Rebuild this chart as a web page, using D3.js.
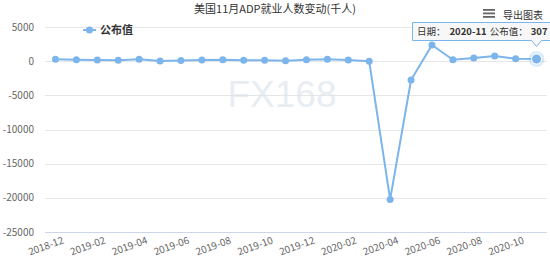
<!DOCTYPE html>
<html>
<head>
<meta charset="utf-8">
<script src="https://cdn.jsdelivr.net/npm/d3@7/dist/d3.min.js"></script>
<style>
  html, body { margin: 0; padding: 0; background: #fff; }
  svg { display: block; font-family: "Noto Sans CJK SC", "DejaVu Sans", sans-serif; }
</style>
</head>
<body>
<div id="chart"></div>
<script>
var months = ["2018-12","2019-01","2019-02","2019-03","2019-04","2019-05","2019-06","2019-07",
  "2019-08","2019-09","2019-10","2019-11","2019-12","2020-01","2020-02","2020-03","2020-04",
  "2020-05","2020-06","2020-07","2020-08","2020-09","2020-10","2020-11"];
var values = [271, 213, 183, 129, 275, 27, 102, 156, 195, 135, 125, 67, 202, 291, 183, -27,
  -20236, -2760, 2369, 212, 481, 753, 365, 307];
var yTicks = [5000, 0, -5000, -10000, -15000, -20000, -25000];
var xTickLabels = ["2018-12","2019-02","2019-04","2019-06","2019-08","2019-10","2019-12",
  "2020-02","2020-04","2020-06","2020-08","2020-10"];
var seriesName = "公布值";
var title = "美国11月ADP就业人数变动(千人)";

var width = 550, height = 267;
var margin = {top: 27, right: 3, bottom: 35, left: 45};
var lineColor = "#7cb5ec";

var svg = d3.select("#chart").append("svg")
  .attr("width", width)
  .attr("height", height);

var x = d3.scaleBand()
  .domain(months)
  .range([margin.left, width - margin.right]);

var y = d3.scaleLinear()
  .domain([-25000, 5000])
  .range([height - margin.bottom, margin.top]);

// grid lines
svg.append("g")
  .selectAll("line")
  .data(yTicks)
  .enter().append("line")
  .attr("x1", margin.left)
  .attr("x2", width - margin.right)
  .attr("y1", function(d) { return Math.round(y(d)) + 0.5; })
  .attr("y2", function(d) { return Math.round(y(d)) + 0.5; })
  .attr("stroke", function(d) { return d === -25000 ? "#ccd6eb" : "#e6e6e6"; })
  .attr("stroke-width", 1);

// y axis labels
svg.append("g")
  .selectAll("text")
  .data(yTicks)
  .enter().append("text")
  .attr("x", 34)
  .attr("y", function(d) { return y(d) + 3.5; })
  .attr("text-anchor", "end")
  .attr("font-size", 10)
  .attr("fill", "#666")
  .text(function(d) { return d; });

// x axis labels
svg.append("g")
  .selectAll("text")
  .data(xTickLabels)
  .enter().append("text")
  .attr("transform", function(d) {
    var cx = x(d) + x.bandwidth() / 2 + 9;
    return "translate(" + cx + "," + 243 + ") rotate(-20)";
  })
  .attr("text-anchor", "end")
  .attr("font-size", 10)
  .attr("fill", "#666")
  .text(function(d) { return d; });

// watermark
svg.append("text")
  .attr("x", 282)
  .attr("y", 107)
  .attr("text-anchor", "middle")
  .attr("font-size", 37)
  .attr("font-family", "Arial, 'Liberation Sans', sans-serif")
  .attr("fill", "#dde6ee")
  .attr("fill-opacity", 0.7)
  .text("FX168");

// title
svg.append("text")
  .attr("x", width / 2)
  .attr("y", 13)
  .attr("text-anchor", "middle")
  .attr("font-size", 11)
  .attr("fill", "#333")
  .text(title);

// export menu
var menu = svg.append("g").attr("transform", "translate(483,9)");
[0, 3.5, 7].forEach(function(dy) {
  menu.append("rect").attr("x", 0).attr("y", dy).attr("width", 12).attr("height", 1.8).attr("fill", "#666");
});
svg.append("text")
  .attr("x", 503)
  .attr("y", 19)
  .attr("font-size", 10)
  .attr("fill", "#333")
  .text("导出图表");

// legend
var legend = svg.append("g").attr("transform", "translate(83,30)");
legend.append("line").attr("x1", 0).attr("x2", 13).attr("stroke", lineColor).attr("stroke-width", 2);
legend.append("circle").attr("cx", 6.5).attr("r", 3.5).attr("fill", lineColor);
legend.append("text")
  .attr("x", 17)
  .attr("y", 4)
  .attr("font-size", 11)
  .attr("font-weight", "bold")
  .attr("fill", "#333")
  .text(seriesName);

// series line
var cx = function(d, i) { return x(months[i]) + x.bandwidth() / 2; };
var line = d3.line()
  .x(function(d, i) { return cx(d, i); })
  .y(function(d) { return y(d); });

svg.append("path")
  .datum(values)
  .attr("fill", "none")
  .attr("stroke", lineColor)
  .attr("stroke-width", 2)
  .attr("stroke-linejoin", "round")
  .attr("d", line);

svg.append("g")
  .selectAll("circle")
  .data(values)
  .enter().append("circle")
  .attr("cx", cx)
  .attr("cy", function(d) { return y(d); })
  .attr("r", 3.5)
  .attr("fill", lineColor);

// hovered last point
var last = values.length - 1;
var hx = cx(values[last], last), hy = y(values[last]);
svg.append("circle").attr("cx", hx).attr("cy", hy).attr("r", 8).attr("fill", lineColor).attr("fill-opacity", 0.25);
svg.append("circle").attr("cx", hx).attr("cy", hy).attr("r", 5).attr("fill", lineColor).attr("stroke", "#fff").attr("stroke-width", 1);

// tooltip
var tip = svg.append("g");
var tx0 = 412.5, ty0 = 22.5, tx1 = 556, ty1 = 40.5;
tip.append("path")
  .attr("d", "M" + tx0 + "," + ty0 + "H" + tx1 + "V" + ty1 + "H" + (hx + 5) + "L" + hx + "," + (ty1 + 6) + "L" + (hx - 5) + "," + ty1 + "H" + tx0 + "Z")
  .attr("fill", "#f7f7f7")
  .attr("fill-opacity", 0.95)
  .attr("stroke", lineColor)
  .attr("stroke-width", 1);
var tt = tip.append("text")
  .attr("x", 417)
  .attr("y", 35)
  .attr("font-size", 9.5)
  .attr("fill", "#333");
tt.append("tspan").text("日期：");
tt.append("tspan").attr("dx", 4).attr("font-weight", "bold").text(months[last]);
tt.append("tspan").attr("dx", 3).text(seriesName + "：");
tt.append("tspan").attr("dx", 3).attr("font-weight", "bold").text(values[last]);
</script>
</body>
</html>
